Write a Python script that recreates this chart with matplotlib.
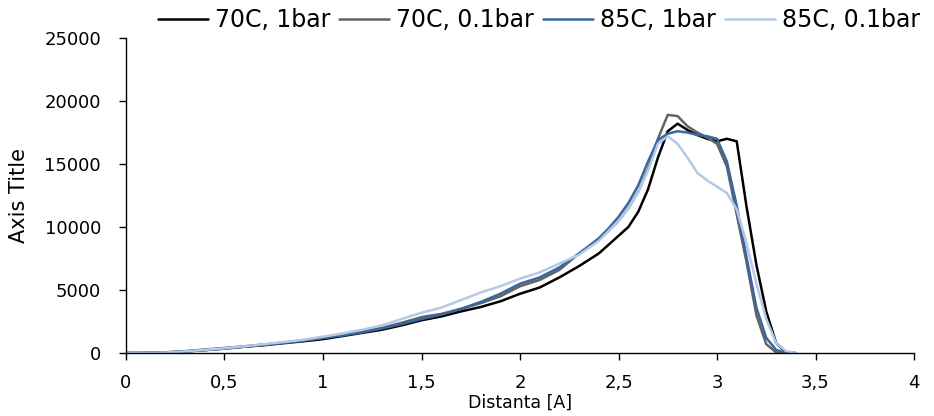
import numpy as np
import matplotlib
matplotlib.use('Agg')
import matplotlib.pyplot as plt
from matplotlib.ticker import FuncFormatter

# Distanz-Raster (gemeinsam fuer alle Serien)
distanta = [0.0, 0.1, 0.2, 0.3, 0.4, 0.5, 0.6, 0.7, 0.8, 0.9,
            1.0, 1.1, 1.2, 1.3, 1.4, 1.5, 1.6, 1.7, 1.8, 1.9,
            2.0, 2.1, 2.2, 2.3, 2.4, 2.45, 2.5, 2.55, 2.6, 2.65,
            2.7, 2.75, 2.8, 2.85, 2.9, 2.95, 3.0, 3.05, 3.1, 3.15,
            3.2, 3.25, 3.3, 3.35, 3.4]

t70_1bar = [0, 0, 30, 120, 230, 350, 500, 620, 780, 930,
            1100, 1350, 1600, 1850, 2200, 2600, 2900, 3300, 3650, 4100,
            4700, 5200, 6000, 6900, 7900, 8600, 9300, 10000, 11200, 13000,
            15500, 17600, 18200, 17700, 17300, 17000, 16800, 17000, 16800, 11600,
            7000, 3300, 800, 50, 0]

t70_01bar = [0, 10, 60, 150, 280, 400, 530, 680, 830, 1000,
             1200, 1450, 1700, 2000, 2400, 2850, 3100, 3500, 3950, 4500,
             5300, 5800, 6600, 7900, 9000, 9700, 10500, 11500, 12800, 14600,
             17000, 18900, 18800, 18000, 17500, 17100, 16600, 14800, 11000, 7200,
             3000, 700, 50, 0, np.nan]

t85_1bar = [0, 0, 40, 120, 230, 350, 500, 650, 800, 980,
            1200, 1400, 1650, 1950, 2300, 2700, 3050, 3500, 4050, 4700,
            5500, 6000, 6800, 7900, 9100, 9900, 10800, 11900, 13300, 15200,
            16900, 17400, 17600, 17500, 17300, 17200, 17000, 15200, 11700, 7600,
            3600, 1200, 250, 0, np.nan]

t85_01bar = [0, 0, 40, 130, 250, 380, 530, 700, 870, 1050,
             1300, 1550, 1850, 2200, 2700, 3200, 3600, 4200, 4800, 5300,
             5900, 6400, 7100, 7800, 8900, 9700, 10500, 11500, 12800, 14500,
             16600, 17200, 16600, 15500, 14300, 13700, 13200, 12700, 11400, 8700,
             5500, 2700, 800, 150, 0]

serien = [
    ('70C, 1bar', t70_1bar, '#000000'),
    ('70C, 0.1bar', t70_01bar, '#636363'),
    ('85C, 1bar', t85_1bar, '#3A66A0'),
    ('85C, 0.1bar', t85_01bar, '#B4C9E8'),
]

fig = plt.figure(figsize=(9.34, 4.16), dpi=100)
ax = fig.add_axes([0.1349, 0.1514, 0.8437, 0.7573])

for name, werte, farbe in serien:
    ax.plot(distanta, werte, color=farbe, lw=1.8, label=name, solid_capstyle='round')

ax.set_xlim(0, 4)
ax.set_ylim(0, 25000)
ax.set_xticks(np.arange(0, 4.01, 0.5))
ax.set_yticks(np.arange(0, 25001, 5000))
ax.xaxis.set_major_formatter(FuncFormatter(lambda v, p: ('%g' % v).replace('.', ',')))

for s in ['top', 'right']:
    ax.spines[s].set_visible(False)
for s in ['left', 'bottom']:
    ax.spines[s].set_color('black')
    ax.spines[s].set_linewidth(1.0)
ax.tick_params(axis='both', direction='out', length=5, width=1, labelsize=13, color='black')
ax.tick_params(axis='x', pad=10)
ax.tick_params(axis='y', pad=13)

ax.set_xlabel('Distanta [A]', fontsize=12.5, labelpad=1)
ax.set_ylabel('Axis Title', fontsize=15, labelpad=11)

fig.legend(loc='center', bbox_to_anchor=(0.577, 0.952), ncol=4, frameon=False,
           fontsize=17, handlelength=2.1, handletextpad=0.3, columnspacing=0.4)

plt.savefig('out.png', dpi=100)
